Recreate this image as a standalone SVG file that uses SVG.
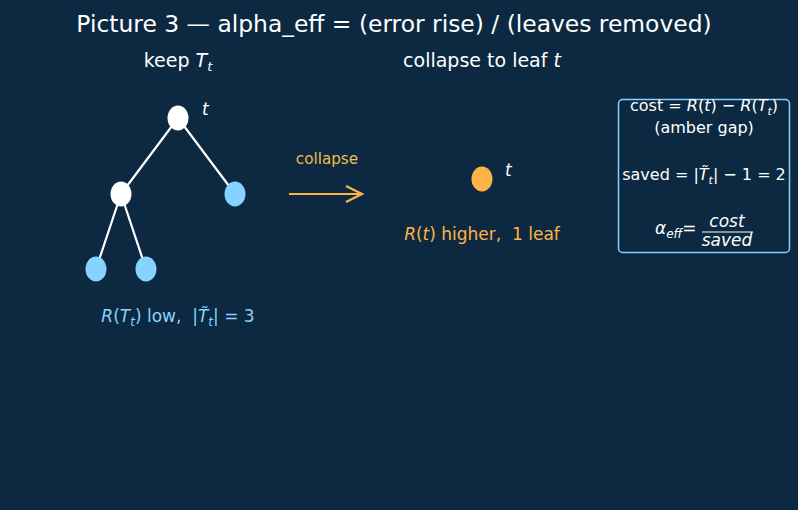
<svg xmlns="http://www.w3.org/2000/svg" width="798" height="510" viewBox="0 0 798 510">
<style>
text{font-family:"DejaVu Sans",sans-serif;}
.it{font-style:italic;}
.w{fill:#ffffff;}
.b{fill:#87d3ff;}
.a{fill:#ffb347;}
.edge{stroke:#ffffff;stroke-width:2.2;}
</style>
<defs>
<marker id="chev" viewBox="0 0 20 20" refX="18" refY="10" markerWidth="20" markerHeight="20" markerUnits="userSpaceOnUse" orient="auto">
<path d="M2,2 L18,10 L2,18" fill="none" stroke="#ffb347" stroke-width="2.2"/>
</marker>
</defs>
<rect width="798" height="510" fill="#0c2941"/>
<text x="394" y="32" font-size="23.4" text-anchor="middle" class="w">Picture 3 — alpha_eff = (error rise) / (leaves removed)</text>
<text x="178" y="67" font-size="19" text-anchor="middle" class="w">keep <tspan class="it">T</tspan><tspan class="it" font-size="13" dy="4">t</tspan></text>
<text x="482" y="67" font-size="19" text-anchor="middle" class="w">collapse to leaf <tspan class="it">t</tspan></text>
<g id="connectors">
<line class="edge" x1="178" y1="118" x2="121" y2="194"/>
<line class="edge" x1="178" y1="118" x2="235" y2="194"/>
<line class="edge" x1="121" y1="194" x2="96" y2="269"/>
<line class="edge" x1="121" y1="194" x2="146" y2="269"/>
<line x1="289" y1="194" x2="362" y2="194" stroke="#ffb347" stroke-width="2.2" marker-end="url(#chev)"/>
</g>
<g id="root"><ellipse cx="178" cy="118" rx="10.5" ry="12.5" fill="#ffffff"/><text x="202" y="115" font-size="17" class="w it">t</text></g>
<g id="left"><ellipse cx="121" cy="194" rx="10.5" ry="12.5" fill="#ffffff"/></g>
<g id="right"><ellipse cx="235" cy="194" rx="10.5" ry="12.5" fill="#87d3ff"/></g>
<g id="leafL"><ellipse cx="96" cy="269" rx="10.5" ry="12.5" fill="#87d3ff"/></g>
<g id="leafR"><ellipse cx="146" cy="269" rx="10.5" ry="12.5" fill="#87d3ff"/></g>
<text x="178" y="322" font-size="17" text-anchor="middle" class="b"><tspan class="it">R</tspan>(<tspan class="it">T</tspan><tspan class="it" font-size="12" dy="4">t</tspan><tspan dy="-4">) low,&#160; |</tspan><tspan class="it">T̃</tspan><tspan class="it" font-size="12" dy="4">t</tspan><tspan dy="-4">| = 3</tspan></text>
<text x="327" y="164" font-size="15.2" text-anchor="middle" fill="#f2bd4c">collapse</text>
<g id="leaf-t"><ellipse cx="482" cy="179" rx="10.5" ry="12.5" fill="#ffb347"/><text x="505" y="176" font-size="17" class="w it">t</text></g>
<text x="482" y="240" font-size="17" text-anchor="middle" class="a"><tspan class="it">R</tspan>(<tspan class="it">t</tspan>) higher,&#160; 1 leaf</text>
<g id="box">
<rect x="618.5" y="99.5" width="171" height="153" rx="4" fill="none" stroke="#87d3ff" stroke-width="1.5"/>
<text x="704" y="111" font-size="16" text-anchor="middle" class="w">cost = <tspan class="it">R</tspan>(<tspan class="it">t</tspan>) − <tspan class="it">R</tspan>(<tspan class="it">T</tspan><tspan class="it" font-size="11" dy="4">t</tspan><tspan dy="-4">)</tspan></text>
<text x="704" y="133" font-size="16" text-anchor="middle" class="w">(amber gap)</text>
<text x="704" y="180" font-size="16" text-anchor="middle" class="w">saved = |<tspan class="it">T̃</tspan><tspan class="it" font-size="11" dy="4">t</tspan><tspan dy="-4">| − 1 = 2</tspan></text>
<text x="655" y="234" font-size="17" class="w"><tspan class="it">α</tspan><tspan class="it" font-size="12" dy="4">eff</tspan><tspan dy="-4">=</tspan></text>
<text x="727" y="227" font-size="17" text-anchor="middle" class="w it">cost</text>
<line x1="702" y1="232" x2="753" y2="232" stroke="#ffffff" stroke-width="1"/>
<text x="727" y="246" font-size="17" text-anchor="middle" class="w it">saved</text>
</g>
</svg>
